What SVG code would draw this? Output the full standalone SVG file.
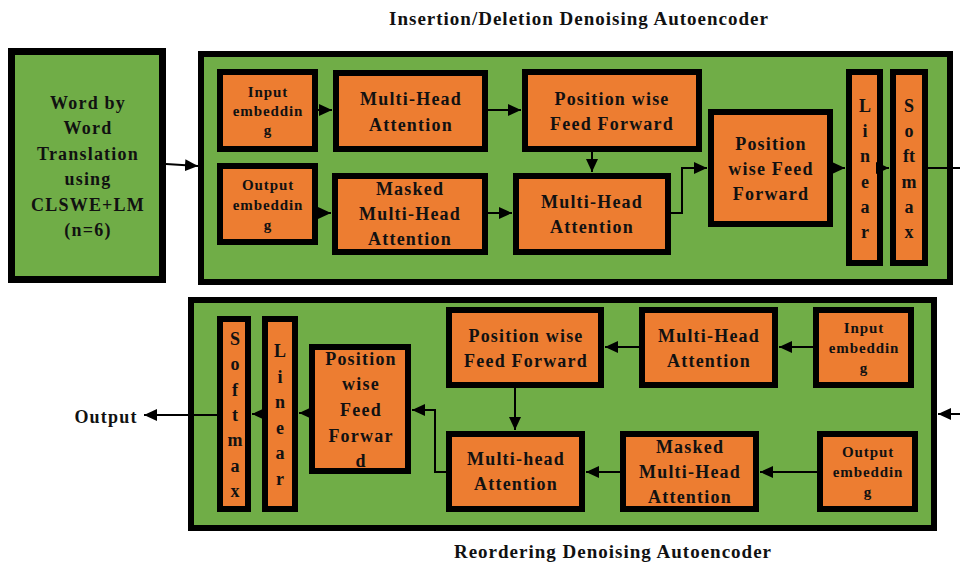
<svg xmlns="http://www.w3.org/2000/svg" width="960" height="565" viewBox="0 0 960 565">
<defs>
<style>
.bg{fill:#70AD47;stroke:#000;stroke-width:6}
.nd{fill:#ED7D31;stroke:#000;stroke-width:6}
.t{font-family:"Liberation Serif","Times New Roman",serif;font-weight:bold;fill:#111;text-anchor:middle}
.l{font-size:18px;letter-spacing:1.2px}
.s{font-size:15px;letter-spacing:0.9px}
.v{font-size:18px}
.ttl{font-size:19px;letter-spacing:1px}
.c{fill:none;stroke:#000;stroke-width:2}
</style>
<marker id="ah" markerUnits="userSpaceOnUse" markerWidth="14" markerHeight="14" refX="13" refY="7" orient="auto">
<path d="M0,1 L13,7 L0,13 Z" fill="#000"/>
</marker>
</defs>
<rect width="960" height="565" fill="#fff"/>

<text class="t ttl" x="579" y="25">Insertion/Deletion Denoising Autoencoder</text>
<text class="t ttl" x="613" y="558">Reordering Denoising Autoencoder</text>

<g id="wbw">
<rect x="11.5" y="51.5" width="151" height="228" fill="#70AD47" stroke="#000" stroke-width="7"/>
<text class="t l" x="88"><tspan x="88" y="109">Word by</tspan><tspan x="88" y="134">Word</tspan><tspan x="88" y="160">Translation</tspan><tspan x="88" y="185">using</tspan><tspan x="88" y="211">CLSWE+LM</tspan><tspan x="88" y="236">(n=6)</tspan></text>
</g>

<g id="enc1">
<rect class="bg" x="201" y="54" width="749" height="228"/>
</g>
<g id="enc2">
<rect class="bg" x="191" y="300" width="743" height="228"/>
</g>

<!-- top section nodes -->
<g id="t_inemb"><rect class="nd" x="220" y="72" width="95" height="77"/>
<text class="t s"><tspan x="268" y="97">Input</tspan><tspan x="268" y="116">embeddin</tspan><tspan x="268" y="135">g</tspan></text></g>
<g id="t_mha1"><rect class="nd" x="336" y="73" width="149" height="76"/>
<text class="t l"><tspan x="411" y="105">Multi-Head</tspan><tspan x="411" y="131">Attention</tspan></text></g>
<g id="t_pff1"><rect class="nd" x="525" y="72" width="174" height="77"/>
<text class="t l"><tspan x="612" y="105">Position wise</tspan><tspan x="612" y="130">Feed Forward</tspan></text></g>
<g id="t_outemb"><rect class="nd" x="220" y="166" width="95" height="76"/>
<text class="t s"><tspan x="268" y="190">Output</tspan><tspan x="268" y="210">embeddin</tspan><tspan x="268" y="230">g</tspan></text></g>
<g id="t_mmha"><rect class="nd" x="335" y="176" width="150" height="76"/>
<text class="t l"><tspan x="410" y="195">Masked</tspan><tspan x="410" y="220">Multi-Head</tspan><tspan x="410" y="245">Attention</tspan></text></g>
<g id="t_mha2"><rect class="nd" x="516" y="176" width="152" height="76"/>
<text class="t l"><tspan x="592" y="208">Multi-Head</tspan><tspan x="592" y="233">Attention</tspan></text></g>
<g id="t_pff2"><rect class="nd" x="711" y="112" width="119" height="112"/>
<text class="t l"><tspan x="771" y="150">Position</tspan><tspan x="771" y="175">wise Feed</tspan><tspan x="771" y="200">Forward</tspan></text></g>
<g id="t_lin"><rect class="nd" x="849" y="72" width="31" height="191"/>
<text class="t v"><tspan x="865" y="112">L</tspan><tspan x="865" y="137">i</tspan><tspan x="865" y="162">n</tspan><tspan x="865" y="188">e</tspan><tspan x="865" y="213">a</tspan><tspan x="865" y="238">r</tspan></text></g>
<g id="t_soft"><rect class="nd" x="893" y="72" width="32" height="191"/>
<text class="t v"><tspan x="909" y="112">S</tspan><tspan x="909" y="137">o</tspan><tspan x="909" y="162">ft</tspan><tspan x="909" y="188">m</tspan><tspan x="909" y="213">a</tspan><tspan x="909" y="238">x</tspan></text></g>

<!-- bottom section nodes -->
<g id="b_soft"><rect class="nd" x="220" y="319" width="28" height="190"/>
<text class="t v"><tspan x="235" y="345">S</tspan><tspan x="235" y="370">o</tspan><tspan x="235" y="396">f</tspan><tspan x="235" y="421">t</tspan><tspan x="235" y="446">m</tspan><tspan x="235" y="472">a</tspan><tspan x="235" y="497">x</tspan></text></g>
<g id="b_lin"><rect class="nd" x="265" y="319" width="30" height="190"/>
<text class="t v"><tspan x="280" y="357">L</tspan><tspan x="280" y="383">i</tspan><tspan x="280" y="408">n</tspan><tspan x="280" y="434">e</tspan><tspan x="280" y="459">a</tspan><tspan x="280" y="485">r</tspan></text></g>
<g id="b_pff2"><rect class="nd" x="312" y="347" width="96" height="124"/>
<text class="t l"><tspan x="361" y="365">Position</tspan><tspan x="361" y="390">wise</tspan><tspan x="361" y="416">Feed</tspan><tspan x="361" y="442">Forwar</tspan><tspan x="361" y="467">d</tspan></text></g>
<g id="b_pff1"><rect class="nd" x="449" y="310" width="152" height="75"/>
<text class="t l"><tspan x="526" y="342">Position wise</tspan><tspan x="526" y="367">Feed Forward</tspan></text></g>
<g id="b_mha1"><rect class="nd" x="642" y="310" width="133" height="75"/>
<text class="t l"><tspan x="709" y="342">Multi-Head</tspan><tspan x="709" y="367">Attention</tspan></text></g>
<g id="b_inemb"><rect class="nd" x="816" y="310" width="95" height="75"/>
<text class="t s"><tspan x="864" y="333">Input</tspan><tspan x="864" y="353">embeddin</tspan><tspan x="864" y="373">g</tspan></text></g>
<g id="b_mha2"><rect class="nd" x="449" y="434" width="133" height="75"/>
<text class="t l"><tspan x="516" y="465">Multi-head</tspan><tspan x="516" y="490">Attention</tspan></text></g>
<g id="b_mmha"><rect class="nd" x="623" y="434" width="133" height="75"/>
<text class="t l"><tspan x="690" y="453">Masked</tspan><tspan x="690" y="478">Multi-Head</tspan><tspan x="690" y="503">Attention</tspan></text></g>
<g id="b_outemb"><rect class="nd" x="820" y="434" width="95" height="75"/>
<text class="t s"><tspan x="868" y="457">Output</tspan><tspan x="868" y="477">embeddin</tspan><tspan x="868" y="497">g</tspan></text></g>

<text class="t l" x="106" y="423">Output</text>

<g id="connectors">
<path class="c" d="M166,164 L198,166" marker-end="url(#ah)"/>
<path class="c" d="M318,110 L332,110" marker-end="url(#ah)"/>
<path class="c" d="M488,110 L521,110" marker-end="url(#ah)"/>
<path class="c" d="M592,152 L592,172" marker-end="url(#ah)"/>
<path class="c" d="M318,213 L331,213" marker-end="url(#ah)"/>
<path class="c" d="M488,213 L512,213" marker-end="url(#ah)"/>
<path class="c" d="M671,213 L682,213 L682,168 L707,168" marker-end="url(#ah)"/>
<path class="c" d="M833,168 L845,168" marker-end="url(#ah)"/>
<path class="c" d="M883,168 L889,168" marker-end="url(#ah)"/>
<path class="c" d="M928,168 L960,168"/>

<path class="c" d="M960,414 L938,414" marker-end="url(#ah)"/>
<path class="c" d="M813,347 L779,347" marker-end="url(#ah)"/>
<path class="c" d="M639,347 L605,347" marker-end="url(#ah)"/>
<path class="c" d="M515,388 L515,430" marker-end="url(#ah)"/>
<path class="c" d="M817,472 L760,472" marker-end="url(#ah)"/>
<path class="c" d="M620,472 L586,472" marker-end="url(#ah)"/>
<path class="c" d="M446,472 L435,472 L435,410 L412,410" marker-end="url(#ah)"/>
<path class="c" d="M309,413 L299,413" marker-end="url(#ah)"/>
<path class="c" d="M262,414 L252,414" marker-end="url(#ah)"/>
<path class="c" d="M217,415 L144,415" marker-end="url(#ah)"/>
</g>
</svg>
